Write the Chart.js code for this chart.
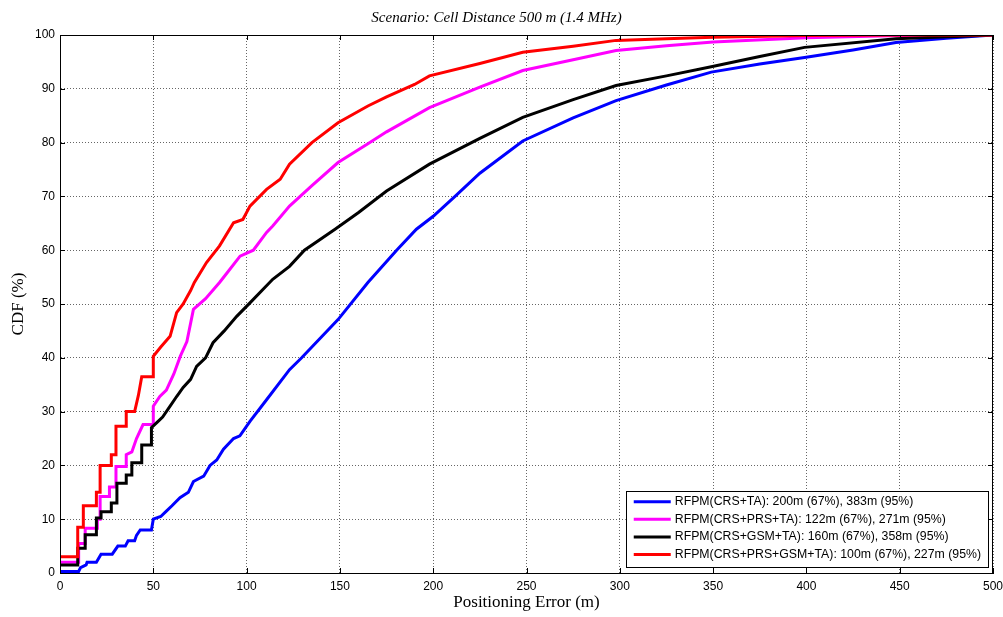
<!DOCTYPE html>
<html>
<head>
<meta charset="utf-8">
<script src="https://cdn.jsdelivr.net/npm/chart.js@4/dist/chart.umd.min.js"></script>
<style>
  html, body { margin: 0; padding: 0; background: #fff; }
  #wrap { width: 1003px; height: 617px; }
</style>
</head>
<body>
<div id="wrap"><canvas id="cdfChart" width="1003" height="617"></canvas></div>
<script>
// tick labels
const xTicks = [0, 50, 100, 150, 200, 250, 300, 350, 400, 450, 500];
const yTicks = [0, 10, 20, 30, 40, 50, 60, 70, 80, 90, 100];

const labels = [
  "RFPM(CRS+TA): 200m (67%), 383m (95%)",
  "RFPM(CRS+PRS+TA): 122m (67%), 271m (95%)",
  "RFPM(CRS+GSM+TA): 160m (67%), 358m (95%)",
  "RFPM(CRS+PRS+GSM+TA): 100m (67%), 227m (95%)"
];

// positioning error (m) / CDF (%)
const blueX = [0, 10, 11, 14, 14.5, 19.5, 22, 28, 31, 35, 36.5, 40, 41, 43, 49, 50, 54, 57, 60, 64.3, 68.8, 71.5, 77, 80.4, 84, 87.6, 93, 96.4, 101.8, 110.7, 123, 129.5, 149, 165, 180.4, 191, 200, 211.7, 225, 248, 275, 298, 325, 349, 375, 399, 425, 448, 475, 500];
const blueY = [0.3, 0.3, 1, 1.5, 2, 2, 3.5, 3.5, 5, 5, 6, 6, 7, 8, 8, 10, 10.5, 11.5, 12.5, 14, 15, 17, 18, 20, 21, 23, 25, 25.5, 28.2, 32.2, 37.8, 40, 47.1, 54, 60, 63.9, 66.3, 70, 74.3, 80.3, 84.6, 87.8, 90.7, 93.1, 94.6, 95.8, 97.2, 98.6, 99.4, 100];

const magX = [0, 10, 10, 13.5, 13.5, 20, 20, 21.5, 21.5, 26.5, 26.5, 30, 30, 35.5, 35.5, 38.5, 41, 44.5, 50, 50, 53.5, 57, 61, 64.5, 68, 71.5, 78, 85.5, 90, 96.5, 103.6, 110.7, 114, 123, 135, 149, 165, 175, 198, 225, 248, 275, 298, 325, 350, 400, 450, 500];
const magY = [2, 2, 5.5, 5.5, 8.3, 8.3, 10, 10, 14.2, 14.2, 16, 16, 19.8, 19.8, 22, 22.5, 25, 27.6, 27.6, 31, 32.8, 34, 37, 40.3, 43, 49, 51, 54, 56, 58.9, 60, 63.3, 64.5, 68.2, 72, 76.3, 79.8, 82, 86.5, 90.3, 93.4, 95.4, 97.1, 98, 98.7, 99.5, 99.9, 100];

const blkX = [0, 9.5, 9.5, 13.5, 13.5, 19.5, 19.5, 22, 22, 27.5, 27.5, 30.5, 30.5, 35.5, 35.5, 38.5, 38.5, 43.8, 43.8, 49, 49, 52, 55, 59, 62.5, 66, 70, 73.2, 78, 82, 88, 94.7, 101.8, 114, 123, 131, 147.4, 160, 175, 198, 225, 248, 275, 298, 325, 349, 375, 399, 448, 500];
const blkY = [1.5, 1.5, 4.6, 4.6, 7.1, 7.1, 10.2, 10.2, 11.4, 11.4, 13, 13, 16.7, 16.7, 18.2, 18.2, 20.5, 20.5, 23.8, 23.8, 27, 28, 29, 31, 32.8, 34.5, 36, 38.4, 40, 42.8, 45, 47.7, 50.2, 54.6, 57, 60, 63.9, 67, 71, 76, 80.8, 84.7, 88, 90.6, 92.4, 94.1, 96, 97.7, 99.3, 100];

const redX = [0, 9.5, 9.5, 12.5, 12.5, 19.5, 19.5, 21.5, 21.5, 27.5, 27.5, 30, 30, 35.5, 35.5, 40, 42, 43.8, 50, 50, 54, 59, 62.5, 66, 70, 72, 78.5, 85.5, 93, 98, 101.8, 110.7, 118, 123, 135, 149, 165, 175, 190, 198, 225, 248, 275, 298, 325, 350, 400, 450, 500];
const redY = [3, 3, 8.5, 8.5, 12.5, 12.5, 15, 15, 20, 20, 22, 22, 27.3, 27.3, 30, 30, 33, 36.5, 36.5, 40.3, 42, 44, 48.4, 50, 52.5, 54, 57.7, 60.8, 65.1, 65.7, 68.2, 71.3, 73.2, 76, 80, 83.7, 86.8, 88.5, 90.8, 92.4, 94.7, 96.8, 97.9, 99, 99.3, 99.6, 99.9, 100, 100];

const toPts = (xs, ys) => xs.map((x, i) => ({ x: x, y: ys[i] }));

// box round the axes with inward ticks, like matlab
const boxPlugin = {
  id: 'box',
  afterDatasetsDraw(chart) {
    const { ctx, chartArea: a, scales } = chart;
    ctx.save();
    ctx.strokeStyle = '#000';
    ctx.lineWidth = 1;
    ctx.strokeRect(a.left + 0.5, a.top + 0.5, a.right - a.left - 1, a.bottom - a.top);
    ctx.beginPath();
    xTicks.forEach(v => {
      const px = Math.round(scales.x.getPixelForValue(v)) + 0.5;
      ctx.moveTo(px, a.bottom); ctx.lineTo(px, a.bottom - 5);
      ctx.moveTo(px, a.top); ctx.lineTo(px, a.top + 5);
    });
    yTicks.forEach(v => {
      const py = Math.round(scales.y.getPixelForValue(v)) + 0.5;
      ctx.moveTo(a.left, py); ctx.lineTo(a.left + 5, py);
      ctx.moveTo(a.right, py); ctx.lineTo(a.right - 5, py);
    });
    ctx.stroke();
    ctx.restore();
  }
};

// legend box in the lower right corner
const legendBox = {
  id: 'legendBox',
  afterDraw(chart) {
    const { ctx, chartArea: a } = chart;
    const sets = chart.data.datasets;
    ctx.save();
    ctx.font = '12.3px "Liberation Sans", Arial, sans-serif';
    let tw = 0;
    sets.forEach(d => { tw = Math.max(tw, ctx.measureText(d.label).width); });
    const rowH = 17.6;
    const w = 8 + 37 + 4 + tw + 7;
    const h = 10 + rowH * 3 + 10;
    const right = a.right - 5, bottom = a.bottom - 6;
    const left = right - w, top = bottom - h - 3;
    ctx.fillStyle = '#fff';
    ctx.fillRect(left, top, w, h + 3);
    ctx.strokeStyle = '#000';
    ctx.lineWidth = 1;
    ctx.strokeRect(Math.round(left) + 0.5, Math.round(top) + 0.5, Math.round(w), Math.round(h + 3));
    ctx.textBaseline = 'middle';
    sets.forEach((d, i) => {
      const y = top + 10.5 + i * rowH;
      ctx.strokeStyle = d.borderColor;
      ctx.lineWidth = 3;
      ctx.beginPath();
      ctx.moveTo(left + 8, y); ctx.lineTo(left + 45, y);
      ctx.stroke();
      ctx.fillStyle = '#000';
      ctx.fillText(d.label, left + 49, y);
    });
    ctx.restore();
  }
};

const gridStyle = {
  color: 'rgba(0,0,0,0.6)',
  lineWidth: 1,
  drawTicks: false
};

new Chart(document.getElementById('cdfChart').getContext('2d'), {
  type: 'line',
  data: {
    datasets: [
      { label: labels[0], data: toPts(blueX, blueY), borderColor: '#0000ff', order: 3 },
      { label: labels[1], data: toPts(magX, magY), borderColor: '#ff00ff', order: 2 },
      { label: labels[2], data: toPts(blkX, blkY), borderColor: '#000000', order: 1 },
      { label: labels[3], data: toPts(redX, redY), borderColor: '#ff0000', order: 0 }
    ].map(d => Object.assign(d, { borderWidth: 3, pointRadius: 0, tension: 0, fill: false }))
  },
  options: {
    responsive: false,
    animation: false,
    layout: { padding: { left: 0, right: 10, top: 0, bottom: 0 } },
    plugins: {
      legend: { display: false },
      tooltip: { enabled: false },
      title: {
        display: true,
        text: 'Scenario: Cell Distance 500 m (1.4 MHz)',
        color: '#000',
        font: { family: '"Liberation Serif", "Times New Roman", serif', size: 15, style: 'italic', weight: 'normal' },
        padding: { top: 9, bottom: 8 }
      }
    },
    scales: {
      x: {
        type: 'linear',
        min: 0, max: 500,
        afterBuildTicks: s => { s.ticks = xTicks.map(v => ({ value: v })); },
        afterFit: s => { s.height = 44; s.paddingLeft = 0; s.paddingRight = 0; },
        ticks: { color: '#000', padding: 6, maxRotation: 0, font: { family: '"Liberation Sans", Arial, sans-serif', size: 12 } },
        grid: gridStyle,
        border: { display: true, color: '#000', dash: [1, 2] },
        title: {
          display: true,
          text: 'Positioning Error (m)',
          color: '#000',
          font: { family: '"Liberation Serif", "Times New Roman", serif', size: 17 },
          padding: { top: 0, bottom: 4 }
        }
      },
      y: {
        min: 0, max: 100,
        afterBuildTicks: s => { s.ticks = yTicks.map(v => ({ value: v })); },
        afterFit: s => { s.width = 60; s.paddingTop = 0; s.paddingBottom = 0; },
        ticks: { color: '#000', padding: 5, font: { family: '"Liberation Sans", Arial, sans-serif', size: 12 } },
        grid: gridStyle,
        border: { display: true, color: '#000', dash: [1, 2] },
        title: {
          display: true,
          text: 'CDF (%)',
          color: '#000',
          font: { family: '"Liberation Serif", "Times New Roman", serif', size: 17 },
          padding: { top: 8, bottom: 0 }
        }
      }
    }
  },
  plugins: [boxPlugin, legendBox]
});
</script>
</body>
</html>
